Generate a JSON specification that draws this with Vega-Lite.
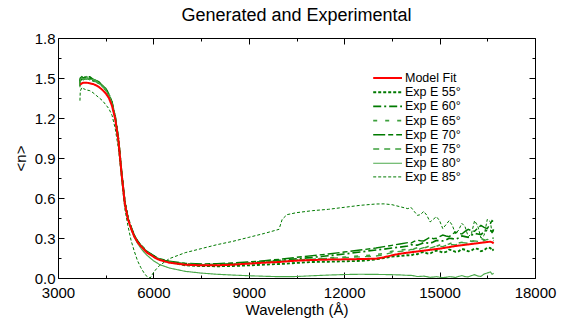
{
  "$schema": "https://vega.github.io/schema/vega-lite/v6.json",
  "width": 477,
  "height": 240,
  "autosize": {"type": "none"},
  "padding": {"left": 58, "top": 38, "right": 27, "bottom": 42},
  "title": {"text": "Generated and Experimental", "fontSize": 18, "fontWeight": "normal", "font": "Liberation Sans", "color": "#000", "anchor": "middle", "baseline": "alphabetic", "offset": 3, "dy": 11},
  "data": {"values": [
    {"w": 3690, "Model Fit": null, "Exp E 55°": 1.44, "Exp E 60°": 1.45, "Exp E 65°": 1.44, "Exp E 70°": 1.46, "Exp E 75°": 1.43, "Exp E 80°": 1.45, "Exp E 85°": 1.33},
    {"w": 3700, "Model Fit": 1.45, "Exp E 55°": 1.48, "Exp E 60°": 1.49, "Exp E 65°": 1.47, "Exp E 70°": 1.50, "Exp E 75°": 1.48, "Exp E 80°": 1.49, "Exp E 85°": 1.40},
    {"w": 3750, "Model Fit": 1.46, "Exp E 55°": 1.50, "Exp E 60°": 1.49, "Exp E 65°": 1.50, "Exp E 70°": 1.51, "Exp E 75°": 1.49, "Exp E 80°": 1.50, "Exp E 85°": 1.43},
    {"w": 3800, "Model Fit": 1.465, "Exp E 55°": 1.49, "Exp E 60°": 1.51, "Exp E 65°": 1.49, "Exp E 70°": 1.50, "Exp E 75°": 1.50, "Exp E 80°": 1.49, "Exp E 85°": 1.42},
    {"w": 3900, "Model Fit": 1.465, "Exp E 55°": 1.50, "Exp E 60°": 1.50, "Exp E 65°": 1.51, "Exp E 70°": 1.51, "Exp E 75°": 1.49, "Exp E 80°": 1.50, "Exp E 85°": 1.41},
    {"w": 4000, "Model Fit": 1.46, "Exp E 55°": 1.49, "Exp E 60°": 1.50, "Exp E 65°": 1.49, "Exp E 70°": 1.51, "Exp E 75°": 1.50, "Exp E 80°": 1.49, "Exp E 85°": 1.405},
    {"w": 4100, "Model Fit": 1.455, "Exp E 55°": 1.48, "Exp E 60°": 1.49, "Exp E 65°": 1.49, "Exp E 70°": 1.49, "Exp E 75°": 1.48, "Exp E 80°": 1.49, "Exp E 85°": 1.39},
    {"w": 4200, "Model Fit": 1.445, "Exp E 55°": 1.47, "Exp E 60°": 1.48, "Exp E 65°": 1.48, "Exp E 70°": 1.48, "Exp E 75°": 1.47, "Exp E 80°": 1.48, "Exp E 85°": 1.37},
    {"w": 4300, "Model Fit": 1.43, "Exp E 55°": 1.46, "Exp E 60°": 1.46, "Exp E 65°": 1.47, "Exp E 70°": 1.47, "Exp E 75°": 1.46, "Exp E 80°": 1.46, "Exp E 85°": 1.35},
    {"w": 4400, "Model Fit": 1.41, "Exp E 55°": 1.44, "Exp E 60°": 1.44, "Exp E 65°": 1.45, "Exp E 70°": 1.44, "Exp E 75°": 1.44, "Exp E 80°": 1.44, "Exp E 85°": 1.33},
    {"w": 4500, "Model Fit": 1.385, "Exp E 55°": 1.41, "Exp E 60°": 1.42, "Exp E 65°": 1.41, "Exp E 70°": 1.42, "Exp E 75°": 1.41, "Exp E 80°": 1.41, "Exp E 85°": 1.30},
    {"w": 4600, "Model Fit": 1.35, "Exp E 55°": 1.37, "Exp E 60°": 1.38, "Exp E 65°": 1.37, "Exp E 70°": 1.38, "Exp E 75°": 1.37, "Exp E 80°": 1.37, "Exp E 85°": 1.27},
    {"w": 4700, "Model Fit": 1.29, "Exp E 55°": 1.31, "Exp E 60°": 1.31, "Exp E 65°": 1.31, "Exp E 70°": 1.32, "Exp E 75°": 1.31, "Exp E 80°": 1.31, "Exp E 85°": 1.22},
    {"w": 4800, "Model Fit": 1.19, "Exp E 55°": 1.20, "Exp E 60°": 1.21, "Exp E 65°": 1.20, "Exp E 70°": 1.21, "Exp E 75°": 1.20, "Exp E 80°": 1.20, "Exp E 85°": 1.12},
    {"w": 4900, "Model Fit": 1.03, "Exp E 55°": 1.04, "Exp E 60°": 1.04, "Exp E 65°": 1.03, "Exp E 70°": 1.05, "Exp E 75°": 1.04, "Exp E 80°": 1.03, "Exp E 85°": 0.97},
    {"w": 5000, "Model Fit": 0.78, "Exp E 55°": 0.79, "Exp E 60°": 0.79, "Exp E 65°": 0.78, "Exp E 70°": 0.80, "Exp E 75°": 0.79, "Exp E 80°": 0.78, "Exp E 85°": 0.74},
    {"w": 5100, "Model Fit": 0.56, "Exp E 55°": 0.57, "Exp E 60°": 0.57, "Exp E 65°": 0.56, "Exp E 70°": 0.58, "Exp E 75°": 0.57, "Exp E 80°": 0.56, "Exp E 85°": 0.52},
    {"w": 5200, "Model Fit": 0.44, "Exp E 55°": 0.45, "Exp E 60°": 0.45, "Exp E 65°": 0.44, "Exp E 70°": 0.45, "Exp E 75°": 0.45, "Exp E 80°": 0.44, "Exp E 85°": 0.39},
    {"w": 5300, "Model Fit": 0.37, "Exp E 55°": 0.375, "Exp E 60°": 0.38, "Exp E 65°": 0.37, "Exp E 70°": 0.38, "Exp E 75°": 0.375, "Exp E 80°": 0.365, "Exp E 85°": 0.28},
    {"w": 5400, "Model Fit": 0.31, "Exp E 55°": 0.315, "Exp E 60°": 0.32, "Exp E 65°": 0.31, "Exp E 70°": 0.32, "Exp E 75°": 0.315, "Exp E 80°": 0.305, "Exp E 85°": 0.20},
    {"w": 5500, "Model Fit": 0.27, "Exp E 55°": 0.275, "Exp E 60°": 0.275, "Exp E 65°": 0.27, "Exp E 70°": 0.28, "Exp E 75°": 0.275, "Exp E 80°": 0.26, "Exp E 85°": 0.13},
    {"w": 5600, "Model Fit": 0.24, "Exp E 55°": 0.245, "Exp E 60°": 0.245, "Exp E 65°": 0.24, "Exp E 70°": 0.25, "Exp E 75°": 0.245, "Exp E 80°": 0.225, "Exp E 85°": 0.08},
    {"w": 5700, "Model Fit": 0.215, "Exp E 55°": 0.22, "Exp E 60°": 0.22, "Exp E 65°": 0.215, "Exp E 70°": 0.225, "Exp E 75°": 0.22, "Exp E 80°": 0.195, "Exp E 85°": 0.04},
    {"w": 5800, "Model Fit": 0.19, "Exp E 55°": 0.195, "Exp E 60°": 0.195, "Exp E 65°": 0.19, "Exp E 70°": 0.20, "Exp E 75°": 0.195, "Exp E 80°": 0.17, "Exp E 85°": 0.01},
    {"w": 5900, "Model Fit": 0.175, "Exp E 55°": 0.18, "Exp E 60°": 0.18, "Exp E 65°": 0.175, "Exp E 70°": 0.185, "Exp E 75°": 0.18, "Exp E 80°": 0.15, "Exp E 85°": 0.0},
    {"w": 6000, "Model Fit": 0.16, "Exp E 55°": 0.165, "Exp E 60°": 0.165, "Exp E 65°": 0.16, "Exp E 70°": 0.17, "Exp E 75°": 0.165, "Exp E 80°": 0.13, "Exp E 85°": 0.04},
    {"w": 6100, "Model Fit": 0.145, "Exp E 55°": 0.15, "Exp E 60°": 0.15, "Exp E 65°": 0.145, "Exp E 70°": 0.155, "Exp E 75°": 0.15, "Exp E 80°": 0.115, "Exp E 85°": 0.07},
    {"w": 6200, "Model Fit": 0.135, "Exp E 55°": 0.14, "Exp E 60°": 0.14, "Exp E 65°": 0.135, "Exp E 70°": 0.145, "Exp E 75°": 0.14, "Exp E 80°": 0.10, "Exp E 85°": 0.095},
    {"w": 6500, "Model Fit": 0.115, "Exp E 55°": 0.12, "Exp E 60°": 0.12, "Exp E 65°": 0.115, "Exp E 70°": 0.125, "Exp E 75°": 0.12, "Exp E 80°": 0.075, "Exp E 85°": 0.145},
    {"w": 7000, "Model Fit": 0.10, "Exp E 55°": 0.095, "Exp E 60°": 0.105, "Exp E 65°": 0.10, "Exp E 70°": 0.11, "Exp E 75°": 0.105, "Exp E 80°": 0.05, "Exp E 85°": 0.19},
    {"w": 7500, "Model Fit": 0.095, "Exp E 55°": 0.09, "Exp E 60°": 0.10, "Exp E 65°": 0.10, "Exp E 70°": 0.105, "Exp E 75°": 0.10, "Exp E 80°": 0.037, "Exp E 85°": 0.22},
    {"w": 8000, "Model Fit": 0.095, "Exp E 55°": 0.088, "Exp E 60°": 0.102, "Exp E 65°": 0.10, "Exp E 70°": 0.108, "Exp E 75°": 0.10, "Exp E 80°": 0.028, "Exp E 85°": 0.25},
    {"w": 8500, "Model Fit": 0.10, "Exp E 55°": 0.09, "Exp E 60°": 0.108, "Exp E 65°": 0.105, "Exp E 70°": 0.113, "Exp E 75°": 0.105, "Exp E 80°": 0.022, "Exp E 85°": 0.275},
    {"w": 9000, "Model Fit": 0.108, "Exp E 55°": 0.095, "Exp E 60°": 0.115, "Exp E 65°": 0.112, "Exp E 70°": 0.12, "Exp E 75°": 0.112, "Exp E 80°": 0.017, "Exp E 85°": 0.305},
    {"w": 9500, "Model Fit": 0.115, "Exp E 55°": 0.10, "Exp E 60°": 0.124, "Exp E 65°": 0.12, "Exp E 70°": 0.13, "Exp E 75°": 0.12, "Exp E 80°": 0.013, "Exp E 85°": 0.335},
    {"w": 9950, "Model Fit": 0.12, "Exp E 55°": 0.105, "Exp E 60°": 0.132, "Exp E 65°": 0.127, "Exp E 70°": 0.14, "Exp E 75°": 0.125, "Exp E 80°": 0.01, "Exp E 85°": 0.365},
    {"w": 10050, "Model Fit": 0.122, "Exp E 55°": 0.106, "Exp E 60°": 0.134, "Exp E 65°": 0.128, "Exp E 70°": 0.142, "Exp E 75°": 0.127, "Exp E 80°": 0.01, "Exp E 85°": 0.44},
    {"w": 10200, "Model Fit": 0.125, "Exp E 55°": 0.108, "Exp E 60°": 0.137, "Exp E 65°": 0.13, "Exp E 70°": 0.146, "Exp E 75°": 0.13, "Exp E 80°": 0.01, "Exp E 85°": 0.475},
    {"w": 10500, "Model Fit": 0.13, "Exp E 55°": 0.113, "Exp E 60°": 0.143, "Exp E 65°": 0.135, "Exp E 70°": 0.155, "Exp E 75°": 0.135, "Exp E 80°": 0.011, "Exp E 85°": 0.49},
    {"w": 11000, "Model Fit": 0.135, "Exp E 55°": 0.12, "Exp E 60°": 0.155, "Exp E 65°": 0.142, "Exp E 70°": 0.168, "Exp E 75°": 0.142, "Exp E 80°": 0.017, "Exp E 85°": 0.505},
    {"w": 11500, "Model Fit": 0.138, "Exp E 55°": 0.122, "Exp E 60°": 0.167, "Exp E 65°": 0.15, "Exp E 70°": 0.18, "Exp E 75°": 0.148, "Exp E 80°": 0.022, "Exp E 85°": 0.515},
    {"w": 12000, "Model Fit": 0.14, "Exp E 55°": 0.125, "Exp E 60°": 0.18, "Exp E 65°": 0.157, "Exp E 70°": 0.195, "Exp E 75°": 0.153, "Exp E 80°": 0.026, "Exp E 85°": 0.53},
    {"w": 12500, "Model Fit": 0.142, "Exp E 55°": 0.128, "Exp E 60°": 0.195, "Exp E 65°": 0.165, "Exp E 70°": 0.21, "Exp E 75°": 0.158, "Exp E 80°": 0.028, "Exp E 85°": 0.545},
    {"w": 13000, "Model Fit": 0.145, "Exp E 55°": 0.14, "Exp E 60°": 0.21, "Exp E 65°": 0.175, "Exp E 70°": 0.225, "Exp E 75°": 0.165, "Exp E 80°": 0.027, "Exp E 85°": 0.555},
    {"w": 13250, "Model Fit": 0.155, "Exp E 55°": 0.15, "Exp E 60°": 0.217, "Exp E 65°": 0.185, "Exp E 70°": 0.235, "Exp E 75°": 0.175, "Exp E 80°": 0.026, "Exp E 85°": 0.556},
    {"w": 13500, "Model Fit": 0.17, "Exp E 55°": 0.16, "Exp E 60°": 0.225, "Exp E 65°": 0.20, "Exp E 70°": 0.245, "Exp E 75°": 0.19, "Exp E 80°": 0.025, "Exp E 85°": 0.55},
    {"w": 13750, "Model Fit": 0.182, "Exp E 55°": 0.165, "Exp E 60°": 0.232, "Exp E 65°": 0.21, "Exp E 70°": 0.255, "Exp E 75°": 0.20, "Exp E 80°": 0.023, "Exp E 85°": 0.535},
    {"w": 14000, "Model Fit": 0.19, "Exp E 55°": 0.172, "Exp E 60°": 0.24, "Exp E 65°": 0.215, "Exp E 70°": 0.265, "Exp E 75°": 0.205, "Exp E 80°": 0.02, "Exp E 85°": 0.52},
    {"w": 14100, "Model Fit": 0.193, "Exp E 55°": 0.168, "Exp E 60°": 0.25, "Exp E 65°": 0.212, "Exp E 70°": 0.262, "Exp E 75°": 0.214, "Exp E 80°": 0.02, "Exp E 85°": 0.53},
    {"w": 14200, "Model Fit": 0.196, "Exp E 55°": 0.18, "Exp E 60°": 0.248, "Exp E 65°": 0.22, "Exp E 70°": 0.275, "Exp E 75°": 0.212, "Exp E 80°": 0.016, "Exp E 85°": 0.50},
    {"w": 14300, "Model Fit": 0.199, "Exp E 55°": 0.178, "Exp E 60°": 0.246, "Exp E 65°": 0.228, "Exp E 70°": 0.283, "Exp E 75°": 0.21, "Exp E 80°": 0.011, "Exp E 85°": 0.47},
    {"w": 14400, "Model Fit": 0.202, "Exp E 55°": 0.19, "Exp E 60°": 0.255, "Exp E 65°": 0.225, "Exp E 70°": 0.28, "Exp E 75°": 0.22, "Exp E 80°": 0.012, "Exp E 85°": 0.475},
    {"w": 14500, "Model Fit": 0.205, "Exp E 55°": 0.195, "Exp E 60°": 0.265, "Exp E 65°": 0.222, "Exp E 70°": 0.278, "Exp E 75°": 0.228, "Exp E 80°": 0.014, "Exp E 85°": 0.50},
    {"w": 14600, "Model Fit": 0.208, "Exp E 55°": 0.185, "Exp E 60°": 0.263, "Exp E 65°": 0.232, "Exp E 70°": 0.292, "Exp E 75°": 0.225, "Exp E 80°": 0.01, "Exp E 85°": 0.47},
    {"w": 14700, "Model Fit": 0.211, "Exp E 55°": 0.183, "Exp E 60°": 0.26, "Exp E 65°": 0.243, "Exp E 70°": 0.305, "Exp E 75°": 0.224, "Exp E 80°": 0.005, "Exp E 85°": 0.42},
    {"w": 14800, "Model Fit": 0.214, "Exp E 55°": 0.197, "Exp E 60°": 0.27, "Exp E 65°": 0.24, "Exp E 70°": 0.295, "Exp E 75°": 0.232, "Exp E 80°": 0.007, "Exp E 85°": 0.44},
    {"w": 14900, "Model Fit": 0.217, "Exp E 55°": 0.205, "Exp E 60°": 0.282, "Exp E 65°": 0.238, "Exp E 70°": 0.298, "Exp E 75°": 0.24, "Exp E 80°": 0.01, "Exp E 85°": 0.46},
    {"w": 15000, "Model Fit": 0.22, "Exp E 55°": 0.20, "Exp E 60°": 0.28, "Exp E 65°": 0.248, "Exp E 70°": 0.31, "Exp E 75°": 0.238, "Exp E 80°": 0.006, "Exp E 85°": 0.43},
    {"w": 15100, "Model Fit": 0.224, "Exp E 55°": 0.19, "Exp E 60°": 0.278, "Exp E 65°": 0.26, "Exp E 70°": 0.322, "Exp E 75°": 0.236, "Exp E 80°": 0.003, "Exp E 85°": 0.37},
    {"w": 15200, "Model Fit": 0.228, "Exp E 55°": 0.195, "Exp E 60°": 0.285, "Exp E 65°": 0.252, "Exp E 70°": 0.315, "Exp E 75°": 0.245, "Exp E 80°": 0.005, "Exp E 85°": 0.40},
    {"w": 15300, "Model Fit": 0.232, "Exp E 55°": 0.213, "Exp E 60°": 0.298, "Exp E 65°": 0.255, "Exp E 70°": 0.31, "Exp E 75°": 0.252, "Exp E 80°": 0.01, "Exp E 85°": 0.43},
    {"w": 15400, "Model Fit": 0.236, "Exp E 55°": 0.207, "Exp E 60°": 0.295, "Exp E 65°": 0.265, "Exp E 70°": 0.328, "Exp E 75°": 0.25, "Exp E 80°": 0.008, "Exp E 85°": 0.395},
    {"w": 15500, "Model Fit": 0.24, "Exp E 55°": 0.196, "Exp E 60°": 0.29, "Exp E 65°": 0.275, "Exp E 70°": 0.345, "Exp E 75°": 0.248, "Exp E 80°": 0.004, "Exp E 85°": 0.33},
    {"w": 15600, "Model Fit": 0.243, "Exp E 55°": 0.20, "Exp E 60°": 0.30, "Exp E 65°": 0.262, "Exp E 70°": 0.335, "Exp E 75°": 0.258, "Exp E 80°": 0.012, "Exp E 85°": 0.36},
    {"w": 15700, "Model Fit": 0.246, "Exp E 55°": 0.218, "Exp E 60°": 0.315, "Exp E 65°": 0.268, "Exp E 70°": 0.33, "Exp E 75°": 0.265, "Exp E 80°": 0.018, "Exp E 85°": 0.41},
    {"w": 15800, "Model Fit": 0.249, "Exp E 55°": 0.212, "Exp E 60°": 0.31, "Exp E 65°": 0.278, "Exp E 70°": 0.35, "Exp E 75°": 0.263, "Exp E 80°": 0.01, "Exp E 85°": 0.385},
    {"w": 15900, "Model Fit": 0.252, "Exp E 55°": 0.20, "Exp E 60°": 0.305, "Exp E 65°": 0.285, "Exp E 70°": 0.365, "Exp E 75°": 0.26, "Exp E 80°": 0.008, "Exp E 85°": 0.31},
    {"w": 16000, "Model Fit": 0.255, "Exp E 55°": 0.205, "Exp E 60°": 0.32, "Exp E 65°": 0.275, "Exp E 70°": 0.355, "Exp E 75°": 0.27, "Exp E 80°": 0.018, "Exp E 85°": 0.33},
    {"w": 16100, "Model Fit": 0.258, "Exp E 55°": 0.222, "Exp E 60°": 0.335, "Exp E 65°": 0.28, "Exp E 70°": 0.35, "Exp E 75°": 0.278, "Exp E 80°": 0.025, "Exp E 85°": 0.43},
    {"w": 16200, "Model Fit": 0.261, "Exp E 55°": 0.218, "Exp E 60°": 0.33, "Exp E 65°": 0.29, "Exp E 70°": 0.375, "Exp E 75°": 0.275, "Exp E 80°": 0.015, "Exp E 85°": 0.39},
    {"w": 16300, "Model Fit": 0.264, "Exp E 55°": 0.20, "Exp E 60°": 0.325, "Exp E 65°": 0.298, "Exp E 70°": 0.395, "Exp E 75°": 0.27, "Exp E 80°": 0.012, "Exp E 85°": 0.30},
    {"w": 16400, "Model Fit": 0.267, "Exp E 55°": 0.208, "Exp E 60°": 0.345, "Exp E 65°": 0.285, "Exp E 70°": 0.38, "Exp E 75°": 0.28, "Exp E 80°": 0.03, "Exp E 85°": 0.32},
    {"w": 16500, "Model Fit": 0.27, "Exp E 55°": 0.228, "Exp E 60°": 0.36, "Exp E 65°": 0.29, "Exp E 70°": 0.37, "Exp E 75°": 0.29, "Exp E 80°": 0.038, "Exp E 85°": 0.44},
    {"w": 16600, "Model Fit": 0.272, "Exp E 55°": 0.225, "Exp E 60°": 0.355, "Exp E 65°": 0.30, "Exp E 70°": 0.41, "Exp E 75°": 0.285, "Exp E 80°": 0.045, "Exp E 85°": 0.42},
    {"w": 16650, "Model Fit": 0.268, "Exp E 55°": 0.205, "Exp E 60°": 0.345, "Exp E 65°": 0.305, "Exp E 70°": 0.43, "Exp E 75°": 0.278, "Exp E 80°": 0.028, "Exp E 85°": 0.33},
    {"w": 16700, "Model Fit": 0.26, "Exp E 55°": 0.215, "Exp E 60°": 0.365, "Exp E 65°": 0.295, "Exp E 70°": 0.42, "Exp E 75°": 0.28, "Exp E 80°": 0.035, "Exp E 85°": 0.36}
  ]},
  "transform": [
    {"fold": ["Model Fit", "Exp E 55°", "Exp E 60°", "Exp E 65°", "Exp E 70°", "Exp E 75°", "Exp E 80°", "Exp E 85°"], "as": ["series", "n"]}
  ],
  "encoding": {
    "x": {"field": "w", "type": "quantitative", "scale": {"domain": [3000, 18000], "nice": false, "zero": false}},
    "y": {"field": "n", "type": "quantitative", "scale": {"domain": [0, 1.8], "nice": false}},
    "color": {"field": "series", "type": "nominal",
      "scale": {"domain": ["Model Fit", "Exp E 55°", "Exp E 60°", "Exp E 65°", "Exp E 70°", "Exp E 75°", "Exp E 80°", "Exp E 85°"],
                "range": ["#ff0000", "#007a00", "#007a00", "#3da03d", "#007a00", "#3da03d", "#4aa84a", "#007a00"]},
      "legend": {"orient": "none", "legendX": 331, "legendY": 33, "title": null, "padding": 0,
                 "symbolType": "M-3.8,0H1", "symbolSize": 144, "labelFontSize": 12.5, "labelFont": "Liberation Sans", "labelColor": "#000",
                 "labelOffset": 2, "rowPadding": 0.2}},
    "strokeDash": {"field": "series", "type": "nominal",
      "scale": {"domain": ["Model Fit", "Exp E 55°", "Exp E 60°", "Exp E 65°", "Exp E 70°", "Exp E 75°", "Exp E 80°", "Exp E 85°"],
                "range": [[1, 0], [3, 2], [8, 3, 2, 3], [4, 8], [12, 3, 5, 3], [6, 5], [1, 0], [3, 2]]}},
    "strokeWidth": {"field": "series", "type": "nominal",
      "scale": {"domain": ["Model Fit", "Exp E 55°", "Exp E 60°", "Exp E 65°", "Exp E 70°", "Exp E 75°", "Exp E 80°", "Exp E 85°"],
                "range": [2, 1, 1, 1.5, 1, 1.5, 2, 1]}}
  },
  "layer": [
    {
      "transform": [{"filter": "datum.series !== 'Model Fit'"}],
      "mark": {"type": "line", "clip": true},
      "encoding": {
        "x": {"field": "w", "type": "quantitative", "axis": {"orient": "bottom", "title": "Wavelength (Å)",
          "values": [3000, 4500, 6000, 7500, 9000, 10500, 12000, 13500, 15000, 16500, 18000],
          "format": "d", "labelExpr": "datum.value % 3000 === 0 ? datum.label : ''",
          "tickSize": {"condition": {"test": "datum.value % 3000 === 0", "value": -6}, "value": -3},
          "labelPadding": 25, "labelBaseline": "alphabetic", "labelFlush": false,
          "titleX": 238.5, "titleY": 36, "titleBaseline": "alphabetic", "titleAlign": "center"}},
        "y": {"field": "n", "type": "quantitative", "axis": {"orient": "left", "title": "<n>",
          "values": [0, 0.15, 0.3, 0.45, 0.6, 0.75, 0.9, 1.05, 1.2, 1.35, 1.5, 1.65, 1.8],
          "format": ".1f", "labelExpr": "abs(datum.value/0.3 - round(datum.value/0.3)) < 0.001 ? datum.label : ''",
          "tickSize": {"condition": {"test": "abs(datum.value/0.3 - round(datum.value/0.3)) < 0.001", "value": -6}, "value": -3},
          "labelPadding": 9, "labelFlush": false,
          "titleX": -38, "titleY": 120, "titleBaseline": "middle", "titleAlign": "center", "titleAngle": -90}}
      }
    },
    {
      "transform": [{"filter": "datum.series === 'Model Fit'"}],
      "mark": {"type": "line", "clip": true},
      "encoding": {
        "x": {"field": "w", "type": "quantitative", "axis": {"orient": "top", "title": null, "labels": false,
          "values": [3000, 4500, 6000, 7500, 9000, 10500, 12000, 13500, 15000, 16500, 18000],
          "tickSize": {"condition": {"test": "datum.value % 3000 === 0", "value": -6}, "value": -3}}},
        "y": {"field": "n", "type": "quantitative", "axis": {"orient": "right", "title": null, "labels": false,
          "values": [0, 0.15, 0.3, 0.45, 0.6, 0.75, 0.9, 1.05, 1.2, 1.35, 1.5, 1.65, 1.8],
          "tickSize": {"condition": {"test": "abs(datum.value/0.3 - round(datum.value/0.3)) < 0.001", "value": -6}, "value": -3}}}
      }
    }
  ],
  "resolve": {"axis": {"x": "independent", "y": "independent"}},
  "config": {
    "font": "Liberation Sans",
    "view": {"stroke": null},
    "axis": {"grid": false, "labelFontSize": 15, "titleFontSize": 15, "titleFontWeight": "normal",
             "labelColor": "#000", "titleColor": "#000", "domainColor": "#000", "tickColor": "#000",
             "domainWidth": 1, "tickWidth": 1}
  }
}
